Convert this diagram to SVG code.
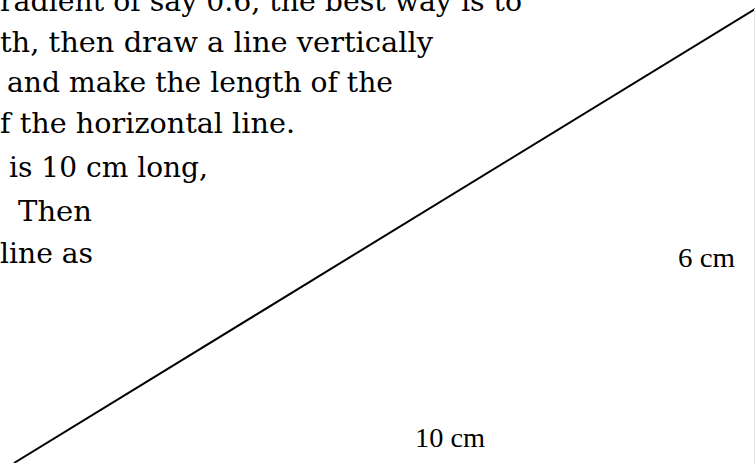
<svg xmlns="http://www.w3.org/2000/svg" width="755" height="463" viewBox="0 0 755 463">
<style>
.body{font-family:"DejaVu Serif","Liberation Serif",serif;font-size:28px;fill:#000}
.lbl{font-family:"Liberation Serif",serif;font-size:28px;fill:#000}
</style>
<rect width="755" height="463" fill="#fff"/>
<g id="paragraph">
<text class="body" x="0" y="11" textLength="522" lengthAdjust="spacingAndGlyphs">radient of say 0.6, the best way is to</text>
<text class="body" x="0" y="52" textLength="433" lengthAdjust="spacingAndGlyphs">th, then draw a line vertically</text>
<text class="body" x="7" y="92" textLength="386" lengthAdjust="spacingAndGlyphs">and make the length of the</text>
<text class="body" x="0" y="133" textLength="295" lengthAdjust="spacingAndGlyphs">f the horizontal line.</text>
<text class="body" x="9" y="177" textLength="199" lengthAdjust="spacingAndGlyphs">is 10 cm long,</text>
<text class="body" x="18" y="221" textLength="74" lengthAdjust="spacingAndGlyphs">Then</text>
<text class="body" x="0" y="263" textLength="93" lengthAdjust="spacingAndGlyphs">line as</text>
</g>
<g id="connectors">
<line x1="14" y1="463" x2="755" y2="9" stroke="#000" stroke-width="2"/>
<line x1="754.5" y1="9" x2="754.5" y2="463" stroke="#e4e4e4" stroke-width="1"/>
</g>
<g id="label-6cm"><text class="lbl" x="678" y="267" textLength="57" lengthAdjust="spacingAndGlyphs">6 cm</text></g>
<g id="label-10cm"><text class="lbl" x="415" y="447" textLength="70" lengthAdjust="spacingAndGlyphs">10 cm</text></g>
</svg>
